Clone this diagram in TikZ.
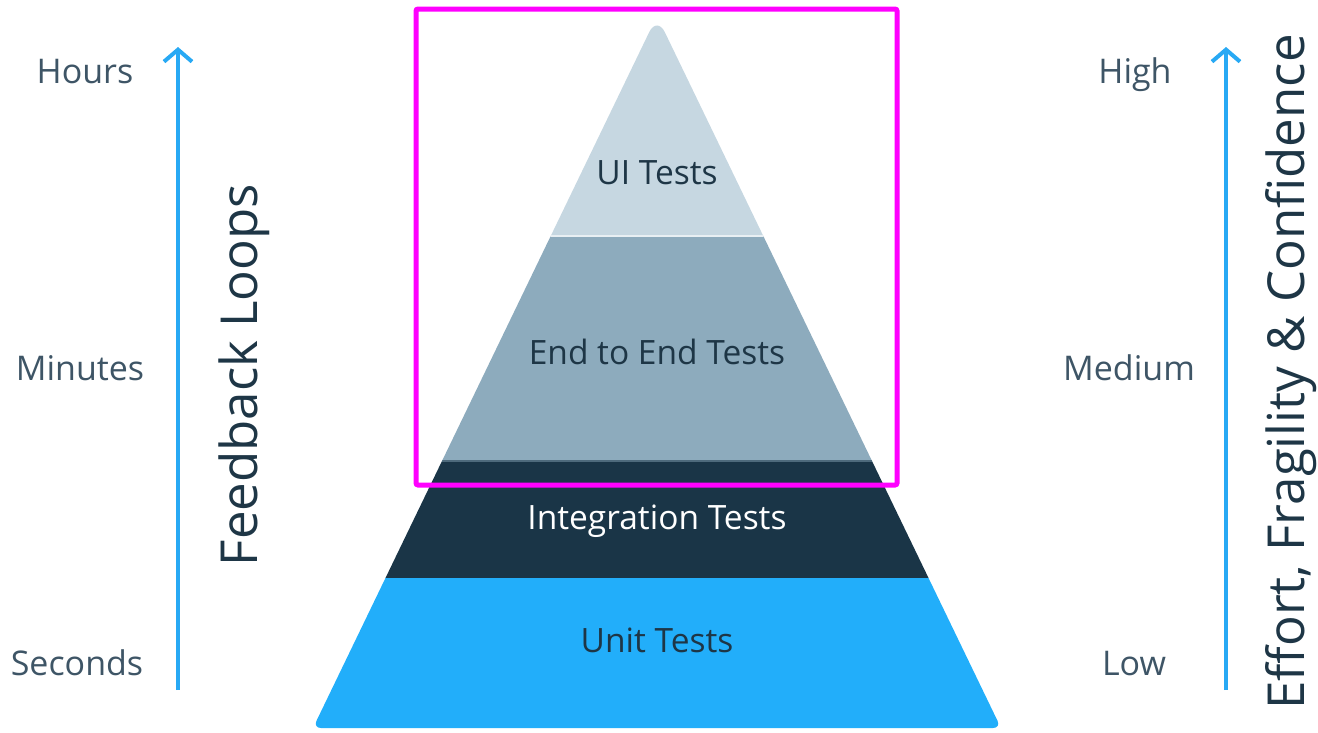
\documentclass[tikz,border=0pt]{standalone}
\usepackage{fontspec}
\setmainfont{Open Sans}
\usetikzlibrary{arrows.meta}

\definecolor{uicol}{HTML}{C6D7E1}
\definecolor{etecol}{HTML}{8DABBD}
\definecolor{intcol}{HTML}{1A3547}
\definecolor{unitcol}{HTML}{22AEFA}
\definecolor{arrowcol}{HTML}{28A9F4}
\definecolor{darktext}{HTML}{1E3646}
\definecolor{sidetext}{HTML}{3E5566}
\definecolor{hilite}{HTML}{FF00FF}

\tikzset{
  layerlabel/.style={anchor=base, inner sep=0pt, font=\fontsize{33.5}{33.5}\selectfont, text=darktext},
  sidelabel/.style={anchor=base, inner sep=0pt, font=\fontsize{34}{34}\selectfont, text=sidetext},
  axislabel/.style={anchor=base, inner sep=0pt, rotate=90, font=\fontsize{51}{51}\selectfont, text=darktext},
  axisarrow/.style={draw=arrowcol, line width=4pt, -{Straight Barb[length=12pt, width=28pt, line width=4pt]}},
}

\begin{document}
\begin{tikzpicture}[x=1pt, y=-1pt]
\useasboundingbox (0,0) rectangle (1318,732);

% pyramid outline
\coordinate (apex) at (657,16);
\coordinate (bl) at (313,728);
\coordinate (br) at (1001,728);
\coordinate (bm) at (657,728);

\begin{scope}
  \clip (bm) [rounded corners=8pt] -- (br) [rounded corners=18pt] -- (apex) [rounded corners=8pt] -- (bl) -- cycle;
  \fill[uicol]   (300,0)   rectangle (1020,236);
  \fill[etecol]  (300,236) rectangle (1020,462);
  \fill[intcol]  (300,462) rectangle (1020,578);
  \fill[unitcol] (300,578) rectangle (1020,740);
  \draw[white!60!uicol, line width=1.5pt] (300,236) -- (1020,236);
  \draw[intcol!55!etecol, line width=2pt] (300,461) -- (1020,461);
\end{scope}

% layer labels
\node[layerlabel] (ui)   at (657,184) {UI Tests};
\node[layerlabel] (e2e)  at (657,364) {End to End Tests};
\node[layerlabel, text=white] (integ) at (657,529) {Integration Tests};
\node[layerlabel] (unit) at (657,652) {Unit Tests};

% highlight frame around the upper layers
\draw[hilite, line width=5pt, rounded corners=2pt] (416,9) rectangle (897,485);

% left axis: feedback loops
\coordinate (lbot) at (178,690);
\coordinate (ltop) at (178,47);
\draw[axisarrow] (lbot) -- (ltop);
\node[sidelabel] (hours)   at (85,83)  {Hours};
\node[sidelabel] (minutes) at (80,380) {Minutes};
\node[sidelabel] (seconds) at (77,675) {Seconds};
\node[axislabel] (feedback) at (257,375) {Feedback Loops};

% right axis: effort, fragility & confidence
\coordinate (rbot) at (1226,690);
\coordinate (rtop) at (1226,47);
\draw[axisarrow] (rbot) -- (rtop);
\node[sidelabel] (high)   at (1135,83)  {High};
\node[sidelabel] (medium) at (1129,380) {Medium};
\node[sidelabel] (low)    at (1134,675) {Low};
\node[axislabel] (effort) at (1304,372) {Effort, Fragility \& Confidence};
\end{tikzpicture}
\end{document}
